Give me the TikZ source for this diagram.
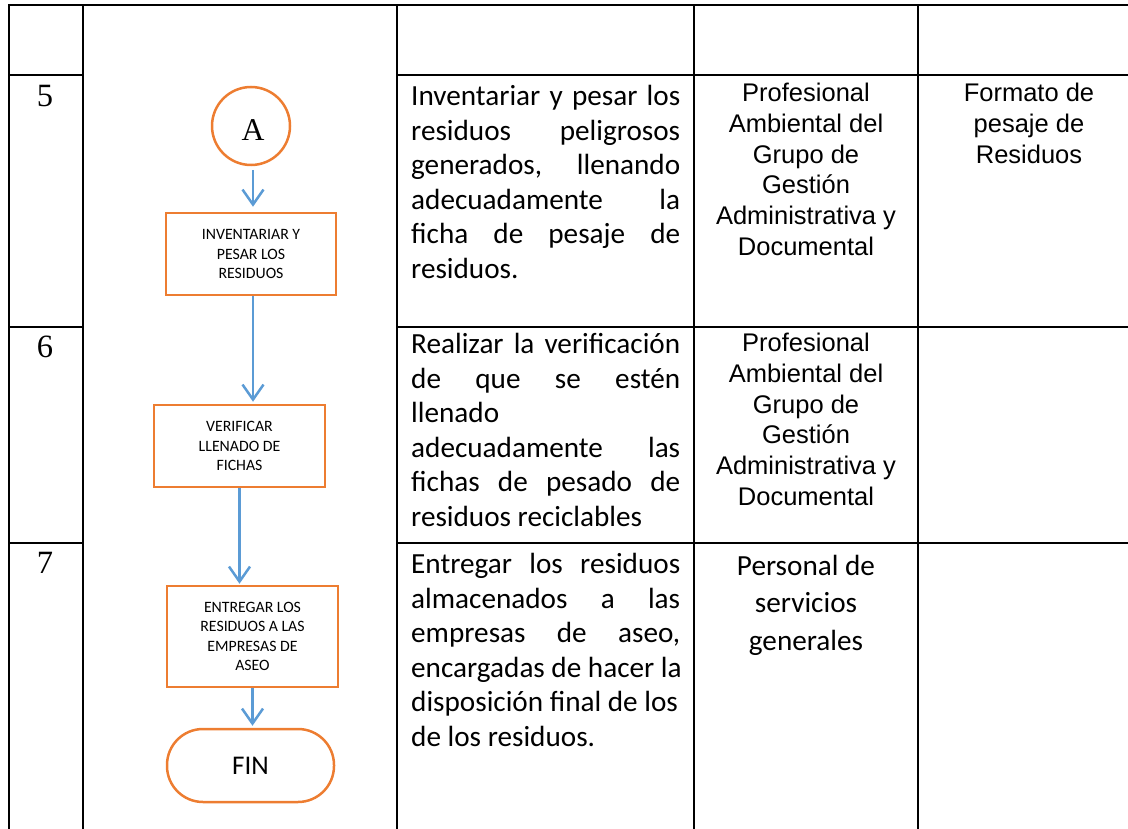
\documentclass[tikz,border=0pt]{standalone}
\usepackage{fontspec}
\newfontfamily\calibri{Carlito}
\newfontfamily\arial{Liberation Sans}
\newfontfamily\cambria{Liberation Serif}
\usetikzlibrary{arrows.meta}
\definecolor{flujo}{RGB}{237,125,49}
\definecolor{flecha}{RGB}{91,155,213}
\newcommand{\jl}[1]{\makebox[269pt][s]{#1}}

\begin{document}
\begin{tikzpicture}[x=1pt,y=1pt,yscale=-1,xscale=1,
  borde/.style={line width=2pt,line cap=rect},
  caja/.style={draw=flujo,line width=2.5pt,rectangle,inner sep=0pt,align=center,font=\calibri\fontsize{15.8}{19.5}\selectfont},
  flechita/.style={draw=flecha,line width=2.5pt,-{Straight Barb[length=15pt,width=21pt]}},
  num/.style={anchor=base,inner sep=0pt,font=\cambria\fontsize{32.5}{38}\selectfont},
  desc/.style={anchor=north west,inner sep=0pt,align=left,font=\calibri\fontsize{29.2}{34.6}\selectfont},
  resp/.style={anchor=north,inner sep=0pt,align=center,font=\arial\fontsize{25.5}{30.7}\selectfont}]
\useasboundingbox (0,0) rectangle (1128,829);

%Shape: Table lines
\draw [borde] (9,5) -- (1128,5) ;
\draw [borde] (9,5) -- (9,829) ;
\draw [borde] (83,5) -- (83,829) ;
\draw [borde] (397,5) -- (397,829) ;
\draw [borde] (694,5) -- (694,829) ;
\draw [borde] (918,5) -- (918,829) ;
\draw [borde] (9,75) -- (83,75) (397,75) -- (1128,75) ;
\draw [borde] (9,327) -- (83,327) (397,327) -- (1128,327) ;
\draw [borde] (9,543) -- (83,543) (397,543) -- (1128,543) ;

% Text Node
\node [num] (n5) at (45,107) {5};
\node [num] (n6) at (45,357) {6};
\node [num] (n7) at (45,573) {7};

%Shape: Circle
\node [circle,draw=flujo,line width=2.5pt,minimum size=78pt,inner sep=0pt] (A) at (251,126) {};
\node [font=\cambria\fontsize{31.7}{36}\selectfont,inner sep=0pt] (letraA) at (253,130) {A};
%Shape: Rectangle
\node [caja,minimum width=170pt,minimum height=82pt] (inventariar) at (251,254) {INVENTARIAR Y\\PESAR LOS\\RESIDUOS};
%Shape: Rectangle
\node [caja,minimum width=171pt,minimum height=82pt] (verificar) at (239.5,446) {VERIFICAR\\LLENADO DE\\FICHAS};
%Shape: Rectangle
\node [caja,minimum width=171pt,minimum height=101pt] (entregar) at (252.5,636.5) {ENTREGAR LOS\\RESIDUOS A LAS\\EMPRESAS DE\\ASEO};
%Shape: Rounded Rectangle
\node [caja,rounded corners=36pt,minimum width=167pt,minimum height=73pt,font=\calibri\fontsize{27}{32}\selectfont] (fin) at (250.5,765.5) {FIN};

%Straight Lines
\draw [flechita,shorten <=4pt,shorten >=5pt] ([xshift=2pt]A.south) -- ([xshift=2pt]inventariar.north) ;
\draw [flechita,shorten >=2pt] ([xshift=2pt]inventariar.south) -- ([xshift=2pt]inventariar.south |- verificar.north) ;
\draw [flechita,shorten >=1pt] (verificar.south) -- (verificar.south |- entregar.north) ;
\draw [flechita,shorten >=2pt] (entregar.south) -- (entregar.south |- fin.north) ;

% Text Node
\node [desc] (act5) at (411,85) {\jl{Inventariar y pesar los}\\\jl{residuos peligrosos}\\\jl{generados, llenando}\\\jl{adecuadamente la}\\\jl{ficha de pesaje de}\\residuos.};
% Text Node
\node [desc] (act6) at (411,333) {\jl{Realizar la verificación}\\\jl{de que se estén}\\llenado\\\jl{adecuadamente las}\\\jl{fichas de pesado de}\\residuos reciclables};
% Text Node
\node [desc] (act7) at (411,553) {\jl{Entregar los residuos}\\\jl{almacenados a las}\\\jl{empresas de aseo,}\\encargadas de hacer la\\disposición final de los\\de los residuos.};

% Text Node
\node [resp] (resp5) at (806,83) {Profesional\\Ambiental del\\Grupo de\\Gestión\\Administrativa y\\Documental};
% Text Node
\node [resp] (resp6) at (806,333) {Profesional\\Ambiental del\\Grupo de\\Gestión\\Administrativa y\\Documental};
% Text Node
\node [resp,font=\calibri\fontsize{29.2}{37.5}\selectfont] (resp7) at (806,555) {Personal de\\servicios\\generales};
% Text Node
\node [resp] (reg5) at (1029,83) {Formato de\\pesaje de\\Residuos};

\end{tikzpicture}
\end{document}
